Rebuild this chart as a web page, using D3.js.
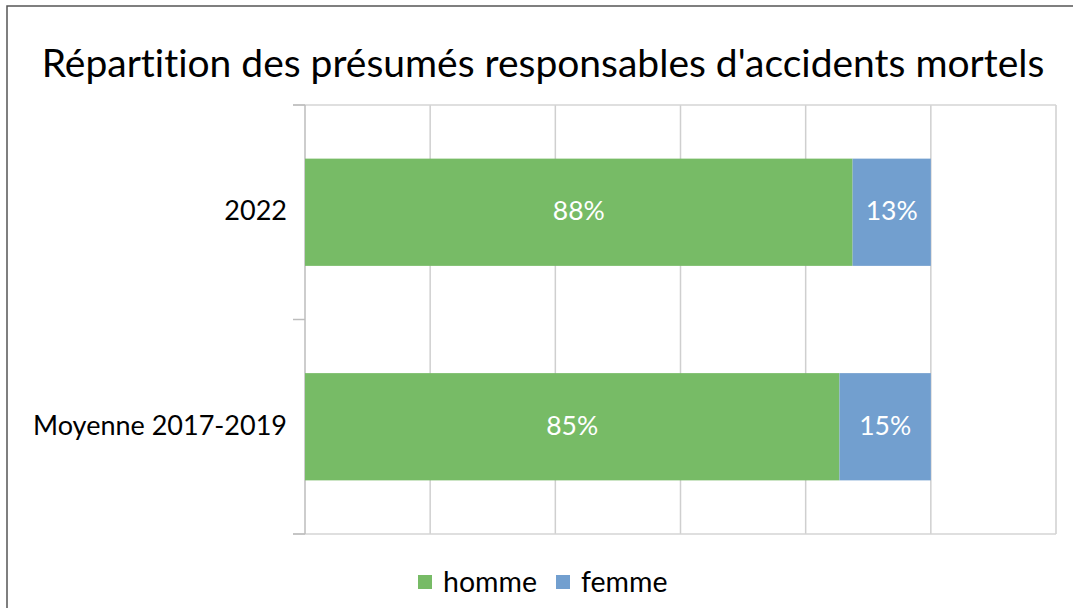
<!DOCTYPE html>
<html><head><meta charset="utf-8">
<script src="https://cdn.jsdelivr.net/npm/d3@7"></script>
<style>html,body{margin:0;padding:0;background:#fff;overflow:hidden}svg{display:block}text{font-variant-ligatures:none}</style>
</head><body>
<svg id="c" width="1073" height="608"></svg>
<script>
const title = "Répartition des présumés responsables d'accidents mortels";
const categories = ["2022", "Moyenne 2017-2019"];
const seriesNames = ["homme", "femme"];
const homme = [0.875, 0.854];
const femme = [0.125, 0.146];
const hommeLabels = ["88%", "85%"];
const femmeLabels = ["13%", "15%"];
const xTicks = [0, 0.2, 0.4, 0.6, 0.8, 1.0, 1.2];
const colors = ["#77BB66", "#729FCF"];

const FONT = "Lato, 'Open Sans', sans-serif";
const svg = d3.select("#c");
svg.append("rect").attr("x", 7).attr("y", 6).attr("width", 1080).attr("height", 620)
  .attr("fill", "#fff").attr("stroke", "#555").attr("stroke-width", 1.5);

// font size needed so that a sample string has width w
function fitSize(str, w, base) {
  const tmp = svg.append("text").attr("font-family", FONT).attr("font-size", base).text(str);
  const cur = tmp.node().getComputedTextLength();
  tmp.remove();
  return base * w / cur;
}

svg.append("text").attr("x", 543).attr("y", 77).attr("text-anchor", "middle")
  .attr("font-family", FONT).attr("font-size", fitSize(title, 1003, 32)).attr("fill", "#000").text(title);

const catSize = fitSize("Moyenne 2017-2019", 254, 22);
const valSize = fitSize("88%", 52, 22);
const legSize = fitSize("homme", 94, 22);

const x = d3.scaleLinear().domain([0, 1.2]).range([305, 1056]);
const y = d3.scaleBand().domain(categories).range([105, 534]).paddingInner(0.5).paddingOuter(0.25);

const g = svg.append("g");
g.selectAll("line.grid").data(xTicks.slice(1)).join("line")
  .attr("x1", d => x(d)).attr("x2", d => x(d)).attr("y1", 105).attr("y2", 534)
  .attr("stroke", "#cfcfcf").attr("stroke-width", 1.5);
g.append("line").attr("x1", 293).attr("x2", 1056).attr("y1", 105).attr("y2", 105).attr("stroke", "#d4d4d4").attr("stroke-width", 1.5);
g.append("line").attr("x1", 293).attr("x2", 1056).attr("y1", 534).attr("y2", 534).attr("stroke", "#d4d4d4").attr("stroke-width", 1.5);

const yAxisLine = d3.scaleLinear().domain([0, categories.length]).range([105, 534]);
g.append("line").attr("x1", 305).attr("x2", 305).attr("y1", 105).attr("y2", 534).attr("stroke", "#bdbdbd").attr("stroke-width", 1.5);
g.selectAll("line.tick").data(d3.range(categories.length + 1)).join("line")
  .attr("x1", 293).attr("x2", 305).attr("y1", d => yAxisLine(d)).attr("y2", d => yAxisLine(d))
  .attr("stroke", "#bdbdbd").attr("stroke-width", 1.5);

const stackData = categories.map((c, i) => ({cat: c, homme: homme[i], femme: femme[i]}));
const stacked = d3.stack().keys(seriesNames)(stackData);
const labelsBy = {homme: hommeLabels, femme: femmeLabels};

stacked.forEach((s, si) => {
  g.selectAll(null).data(s).join("rect")
    .attr("x", d => x(d[0])).attr("width", d => x(d[1]) - x(d[0]))
    .attr("y", d => y(d.data.cat)).attr("height", y.bandwidth())
    .attr("fill", colors[si]);
  g.selectAll(null).data(s).join("text")
    .attr("x", d => (x(d[0]) + x(d[1])) / 2).attr("y", d => y(d.data.cat) + y.bandwidth() / 2 + 8)
    .attr("text-anchor", "middle").attr("font-family", FONT).attr("font-size", valSize)
    .attr("fill", "#fff").text((d, i) => labelsBy[s.key][i]);
});

g.selectAll("text.cat").data(categories).join("text")
  .attr("x", 287).attr("y", d => y(d) + y.bandwidth() / 2 + 8).attr("text-anchor", "end")
  .attr("font-family", FONT).attr("font-size", catSize).attr("fill", "#000").text(d => d);

const leg = svg.append("g");
const legX = [418, 556];
seriesNames.forEach((n, i) => {
  leg.append("rect").attr("x", legX[i]).attr("y", 575).attr("width", 14).attr("height", 14).attr("fill", colors[i]);
  leg.append("text").attr("x", legX[i] + 25).attr("y", 592).attr("font-family", FONT).attr("font-size", legSize)
    .attr("fill", "#000").text(n);
});
</script>
</body></html>
